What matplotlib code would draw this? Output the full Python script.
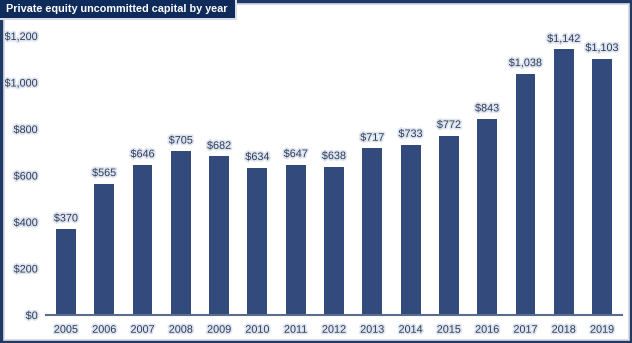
import matplotlib
matplotlib.use("Agg")
import matplotlib.pyplot as plt
from matplotlib.patches import Rectangle
import matplotlib.patheffects as pe

years = ["2005", "2006", "2007", "2008", "2009", "2010", "2011", "2012",
         "2013", "2014", "2015", "2016", "2017", "2018", "2019"]
values = [370, 565, 646, 705, 682, 634, 647, 638, 717, 733, 772, 843, 1038, 1142, 1103]
yticks = [0, 200, 400, 600, 800, 1000, 1200]
title = "Private equity uncommitted capital by year"

W, H = 632, 343
plt.rcParams['font.family'] = ['Liberation Sans', 'DejaVu Sans']
fig = plt.figure(figsize=(W / 100, H / 100), dpi=100)

bar_color = "#324a7c"
text_color = "#2d3b5a"
halo = [pe.withStroke(linewidth=2.5, foreground="#dfe5ef")]
fs = 7.8

ax = fig.add_axes([46 / W, 1 - 315 / H, (622 - 46) / W, (315 - 36) / H])
x = list(range(len(years)))
ax.bar(x, values, width=0.52, color=bar_color, zorder=2)
ax.set_xlim(-0.52, len(years) - 1 + 0.52)
ax.set_ylim(0, 1200)
ax.set_yticks(yticks)
ax.set_yticklabels([f"${v:,}" for v in yticks])
ax.set_xticks(x)
ax.set_xticklabels(years)
for lab in ax.get_xticklabels() + ax.get_yticklabels():
    lab.set_color(text_color)
    lab.set_fontsize(fs)
    lab.set_path_effects(halo)
ax.tick_params(axis='both', length=0)
ax.tick_params(axis='y', pad=6)
ax.tick_params(axis='x', pad=7)
for s in ["top", "right", "left"]:
    ax.spines[s].set_visible(False)
ax.spines["bottom"].set_color("#5a6d8f")
ax.spines["bottom"].set_linewidth(1.5)
ax.spines["bottom"].set_zorder(3)

for xi, v in zip(x, values):
    ax.text(xi, v + 24, f"${v:,}", ha="center", va="bottom", fontsize=fs,
            color=text_color, path_effects=halo, clip_on=False)

# Frame
fig.patches.append(Rectangle((3.5 / W, 3.5 / H), (W - 7) / W, (H - 7) / H,
                             transform=fig.transFigure, fill=False,
                             edgecolor="#d9dde5", linewidth=1.5, zorder=0))
fig.patches.append(Rectangle((1.2 / W, 1.2 / H), (W - 2.4) / W, (H - 2.4) / H,
                             transform=fig.transFigure, fill=False,
                             edgecolor="#1f3a66", linewidth=2.4, zorder=1))
# Title box
fig.patches.append(Rectangle((0, 1 - 20 / H), 237 / W, 20 / H,
                             transform=fig.transFigure, facecolor="#d9dde5",
                             edgecolor="none", zorder=2))
fig.patches.append(Rectangle((0, 1 - 18 / H), 235 / W, 18 / H,
                             transform=fig.transFigure, facecolor="#0e2b5c",
                             edgecolor="none", zorder=3))
t = fig.text(6 / W, 1 - 9.5 / H, title, ha="left", va="center", color="white",
             fontsize=9, fontweight="bold", zorder=4)
# fit title width to the box (about 222 px wide in the reference)
r = fig.canvas.get_renderer()
w = t.get_window_extent(r).width
t.set_fontsize(9 * 222 / w)

fig.savefig("out.png", dpi=100)
